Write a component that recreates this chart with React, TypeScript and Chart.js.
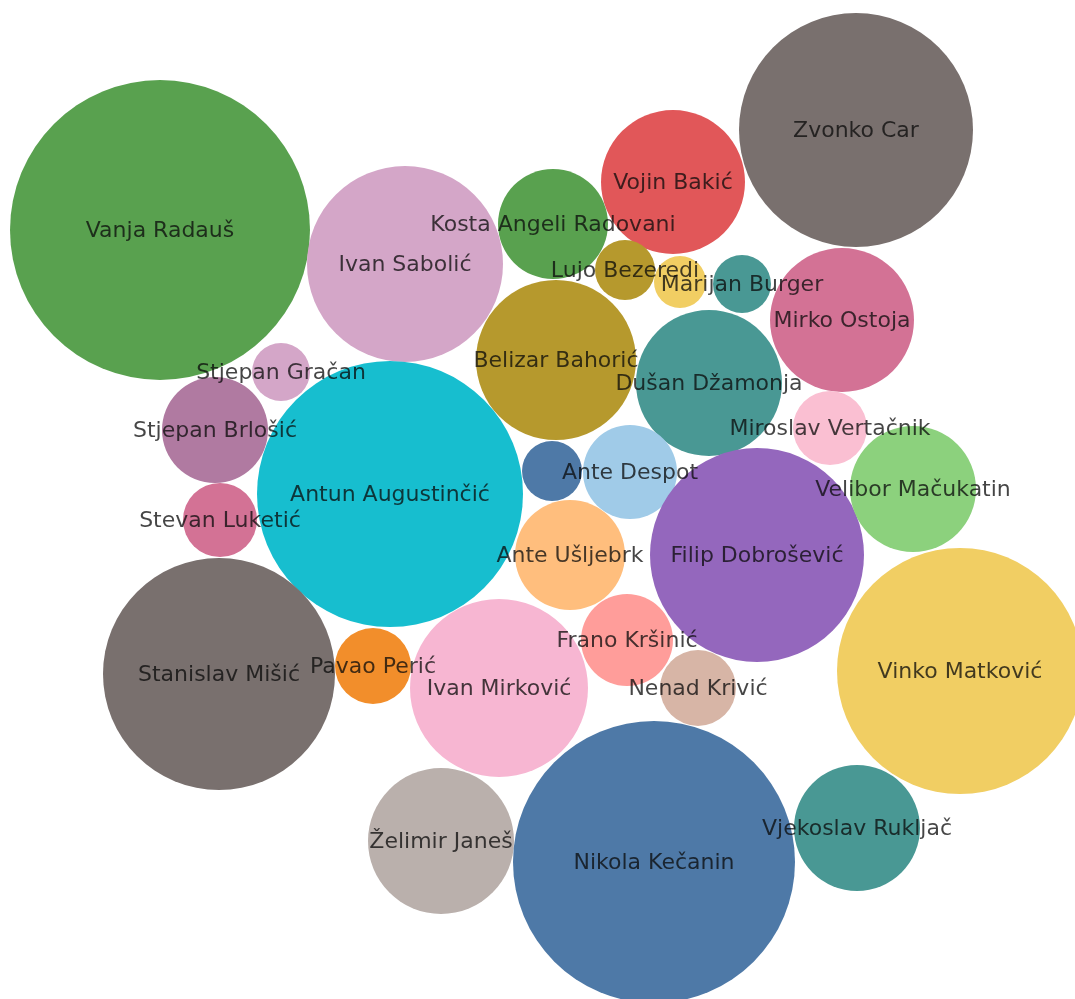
import React, { useEffect, useRef } from "react";
import { Chart, registerables } from "chart.js";

Chart.register(...registerables);

const names = [
  "Vanja Radauš", "Zvonko Car", "Vojin Bakić", "Kosta Angeli Radovani", "Ivan Sabolić",
  "Lujo Bezeredi", "", "Marijan Burger", "Mirko Ostoja", "Belizar Bahorić",
  "Dušan Džamonja", "Stjepan Gračan", "Stjepan Brlošić", "Antun Augustinčić", "Stevan Luketić",
  "", "Ante Despot", "Ante Ušljebrk", "Filip Dobrošević", "Miroslav Vertačnik",
  "Velibor Mačukatin", "Vinko Matković", "Stanislav Mišić", "Pavao Perić", "Ivan Mirković",
  "Frano Kršinić", "Nenad Krivić", "Želimir Janeš", "Nikola Kečanin", "Vjekoslav Rukljač",
];

const xs = [
  160, 856, 673, 553, 405,
  625, 680, 742, 842, 556,
  709, 281, 215, 390, 220,
  552, 630, 570, 757, 830,
  913, 960, 219, 373, 499,
  627, 698, 441, 654, 857,
];

const ys = [
  230, 130, 182, 224, 264,
  270, 282, 284, 320, 360,
  383, 372, 430, 494, 520,
  471, 472, 555, 555, 428,
  489, 671, 674, 666, 688,
  640, 688, 841, 862, 828,
];

const radii = [
  150, 117, 72, 55, 98,
  30, 26, 29, 72, 80,
  73, 29, 53, 133, 37,
  30, 47, 55, 107, 37,
  63, 123, 116, 38, 89,
  46, 38, 73, 141, 63,
];

const colors = [
  "#59a14f", "#79706e", "#e15759", "#59a14f", "#d4a6c8",
  "#b6992d", "#f1ce63", "#499894", "#d37295", "#b6992d",
  "#499894", "#d4a6c8", "#b07aa1", "#17becf", "#d37295",
  "#4e79a7", "#a0cbe8", "#ffbe7d", "#9467bd", "#fabfd2",
  "#8cd17d", "#f1ce63", "#79706e", "#f28e2b", "#f7b6d2",
  "#ff9d9a", "#d7b5a6", "#bab0ac", "#4e79a7", "#499894",
];

const labelPlugin = {
  id: "bubbleLabels",
  afterDatasetsDraw(chart: any) {
    const ctx = chart.ctx;
    const meta = chart.getDatasetMeta(0);
    ctx.save();
    ctx.font = '22px "DejaVu Sans", sans-serif';
    ctx.fillStyle = "rgba(10,10,10,0.76)";
    ctx.textAlign = "center";
    ctx.textBaseline = "middle";
    meta.data.forEach((el: any, i: number) => {
      const t = names[i];
      if (t) ctx.fillText(t, el.x, el.y + 1);
    });
    ctx.restore();
  },
};

export default function App() {
  const ref = useRef<HTMLCanvasElement | null>(null);
  useEffect(() => {
    document.body.style.margin = "0";
    const data = names.map((_, i) => ({ x: xs[i], y: ys[i], r: radii[i] }));
    const chart = new Chart(ref.current!, {
      type: "bubble",
      data: {
        datasets: [
          {
            data,
            backgroundColor: colors,
            borderWidth: 0,
            hoverRadius: 0,
            clip: false,
          } as any,
        ],
      },
      options: {
        animation: false,
        responsive: false,
        maintainAspectRatio: false,
        layout: { padding: 0, autoPadding: false } as any,
        plugins: { legend: { display: false }, tooltip: { enabled: false } },
        scales: {
          x: { type: "linear", min: 0, max: 1075, display: false },
          y: { type: "linear", min: 0, max: 999, reverse: true, display: false },
        },
      },
      plugins: [labelPlugin],
    });
    return () => chart.destroy();
  }, []);
  return (
    <div style={{ position: "fixed", left: 0, top: 0, width: 1075, height: 999, background: "#fff" }}>
      <canvas ref={ref} width={1075} height={999} style={{ width: 1075, height: 999 }} />
    </div>
  );
}
